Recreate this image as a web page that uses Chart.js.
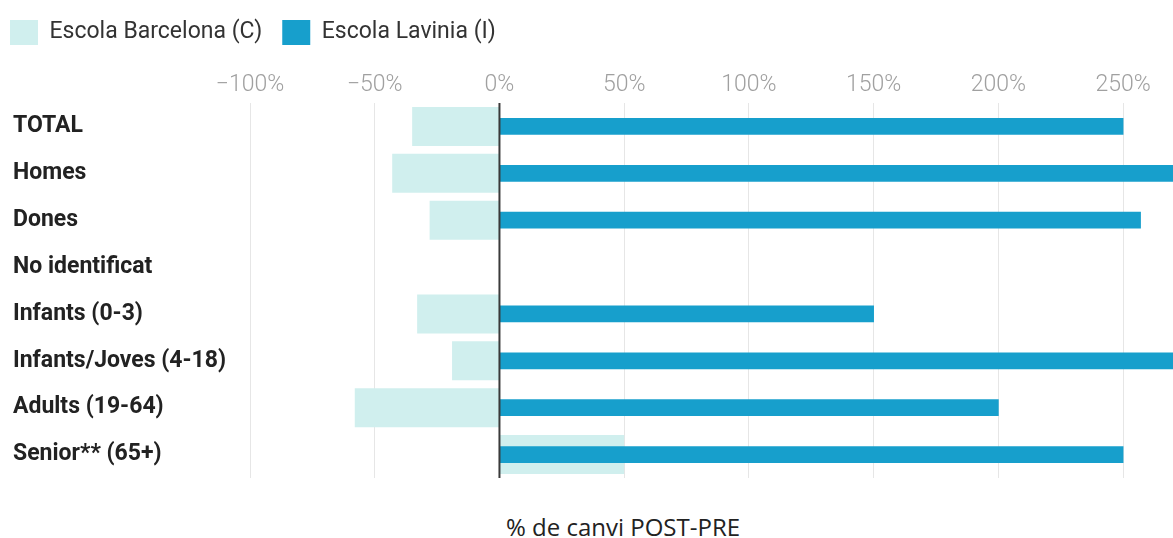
<!DOCTYPE html>
<html>
<head>
<meta charset="utf-8">
<script src="https://cdn.jsdelivr.net/npm/chart.js@4"></script>
<style>
    html, body { margin: 0; padding: 0; background: #fff; }
    #wrap { position: relative; width: 1173px; height: 538px; }
    #xTitle {
        position: absolute; left: 423px; width: 400px; top: 510px;
        text-align: center; font-family: 'Open Sans', sans-serif; font-size: 24px; color: #222;
    }
</style>
</head>
<body>
<div id="wrap">
    <canvas id="changeChart" width="1173" height="500"></canvas>
    <div id="xTitle">% de canvi POST-PRE</div>
</div>
<script>
// % change POST-PRE per group
const categories = ['TOTAL', 'Homes', 'Dones', 'No identificat', 'Infants (0-3)', 'Infants/Joves (4-18)', 'Adults (19-64)', 'Senior** (65+)'];
const barcelona = [-35, -43, -28, null, -33, -19, -58, 50];
const lavinia = [250, 290, 257, null, 150, 290, 200, 250];
const xTicks = [-100, -50, 0, 50, 100, 150, 200, 250];

// zero line drawn above the bars
const zeroLine = {
    id: 'zeroLine',
    afterDatasetsDraw(chart) {
        const x = chart.scales.x.getPixelForValue(0);
        const ctx = chart.ctx;
        ctx.save();
        ctx.strokeStyle = '#3a3a3a';
        ctx.lineWidth = 2;
        ctx.beginPath();
        ctx.moveTo(x, chart.chartArea.top);
        ctx.lineTo(x, chart.chartArea.bottom);
        ctx.stroke();
        ctx.restore();
    }
};

// pull the legend back to the left edge
const legendShift = {
    id: 'legendShift',
    afterLayout(chart) {
        chart.legend.left -= 23;
        chart.legend.right -= 23;
    }
};

const ctx = document.getElementById('changeChart');
new Chart(ctx.getContext('2d'), {
    type: 'bar',
    data: {
        labels: categories,
        datasets: [{
            label: 'Escola Barcelona (C)',
            data: barcelona,
            backgroundColor: '#d0efee',
            grouped: false,
            barPercentage: 0.83,
            categoryPercentage: 1,
            order: 1
        }, {
            label: 'Escola Lavinia (I)',
            data: lavinia,
            backgroundColor: '#179fcc',
            grouped: false,
            barThickness: 16,
            order: 0
        }]
    },
    plugins: [zeroLine, legendShift],
    options: {
        indexAxis: 'y',
        responsive: false,
        animation: false,
        layout: {
            padding: { left: 13, right: 0, top: 0, bottom: 22 }
        },
        plugins: {
            legend: {
                position: 'top',
                align: 'start',
                labels: {
                    boxWidth: 28,
                    boxHeight: 25,
                    padding: 20,
                    color: '#333',
                    font: { family: 'Roboto', size: 23 },
                    sort: (a, b) => a.datasetIndex - b.datasetIndex
                }
            },
            tooltip: { enabled: false }
        },
        scales: {
            x: {
                position: 'top',
                min: -100,
                max: 270,
                afterBuildTicks: (scale) => {
                    scale.ticks = xTicks.map(v => ({ value: v }));
                },
                afterFit: (scale) => { scale.height = 48; },
                grid: {
                    color: '#e6e6e6',
                    drawTicks: false
                },
                border: { display: false },
                ticks: {
                    padding: 4,
                    color: '#a0a0a0',
                    font: { family: 'Roboto', size: 23, weight: '300' },
                    callback: (v) => (v < 0 ? '\u2212' + Math.abs(v) : v) + '%'
                }
            },
            y: {
                afterFit: (scale) => { scale.width = 237; },
                grid: { display: false, drawTicks: false },
                border: { display: false },
                ticks: {
                    crossAlign: 'far',
                    color: '#222',
                    font: { family: 'Roboto', size: 23, weight: 'bold' }
                }
            }
        }
    }
});
</script>
</body>
</html>
